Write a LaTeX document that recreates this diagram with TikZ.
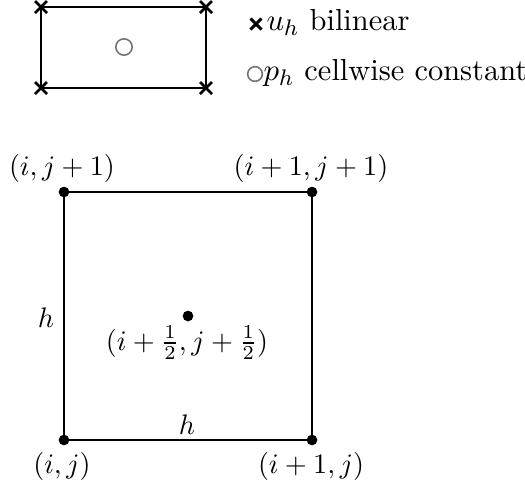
\documentclass[tikz,border=0pt]{standalone}
\begin{document}
\begin{tikzpicture}[x=0.3546pt,y=-0.3546pt,
  edge/.style={line width=0.75pt},
  dotnode/.style={circle,fill=black,inner sep=0pt,minimum size=3.8pt},
  lbl/.style={inner sep=0pt,font=\normalsize},
  leg/.style={inner sep=0pt,font=\fontsize{10.8}{13}\selectfont},
  xmark/.style={line width=0.95pt},
  omark/.style={circle,draw=black!55,line width=0.55pt,inner sep=0pt}]
\useasboundingbox (0,0) rectangle (525,488);
% top element
\coordinate (A1) at (41,88);
\coordinate (B1) at (206,88);
\coordinate (C1) at (206,7);
\coordinate (D1) at (41,7);
\draw[edge] (A1) -- (B1) -- (C1) -- (D1) -- cycle;
\foreach \c in {A1,B1,C1,D1}{
  \draw[xmark] ([shift={(-6,-6)}]\c) -- ([shift={(6,6)}]\c);
  \draw[xmark] ([shift={(-6,6)}]\c) -- ([shift={(6,-6)}]\c);
}
\node[omark,minimum size=5.8pt] (P1) at (124,47) {};
% legend
\coordinate (LX) at (256,24);
\draw[xmark,line width=1.1pt] ([shift={(-5.5,-5.5)}]LX) -- ([shift={(5.5,5.5)}]LX);
\draw[xmark,line width=1.1pt] ([shift={(-5.5,5.5)}]LX) -- ([shift={(5.5,-5.5)}]LX);
\node[leg,anchor=base west] (LU) at (266,30) {$u_h$ bilinear};
\node[omark,minimum size=5.2pt] (LO) at (255,74) {};
\node[leg,anchor=base west] (LP) at (263,80) {$p_h$ cellwise constant};
% bottom cell
\node[dotnode] (SW) at (64,440) {};
\node[dotnode] (SE) at (312,440) {};
\node[dotnode] (NE) at (312,192) {};
\node[dotnode] (NW) at (64,192) {};
\node[dotnode] (M) at (188,316) {};
\draw[edge] (SW.center) -- (SE.center) -- (NE.center) -- (NW.center) -- cycle;
\node[lbl] (tNW) at (62,168) {$(i,j+1)$};
\node[lbl] (tNE) at (311,168) {$(i+1,j+1)$};
\node[lbl] (tSW) at (62,466) {$(i,j)$};
\node[lbl] (tSE) at (311,466) {$(i+1,j)$};
\node[lbl] (tM) at (187,343) {$(i+\frac{1}{2},j+\frac{1}{2})$};
\node[lbl] (hL) at (46,318) {$h$};
\node[lbl] (hB) at (187,425) {$h$};
\end{tikzpicture}
\end{document}
